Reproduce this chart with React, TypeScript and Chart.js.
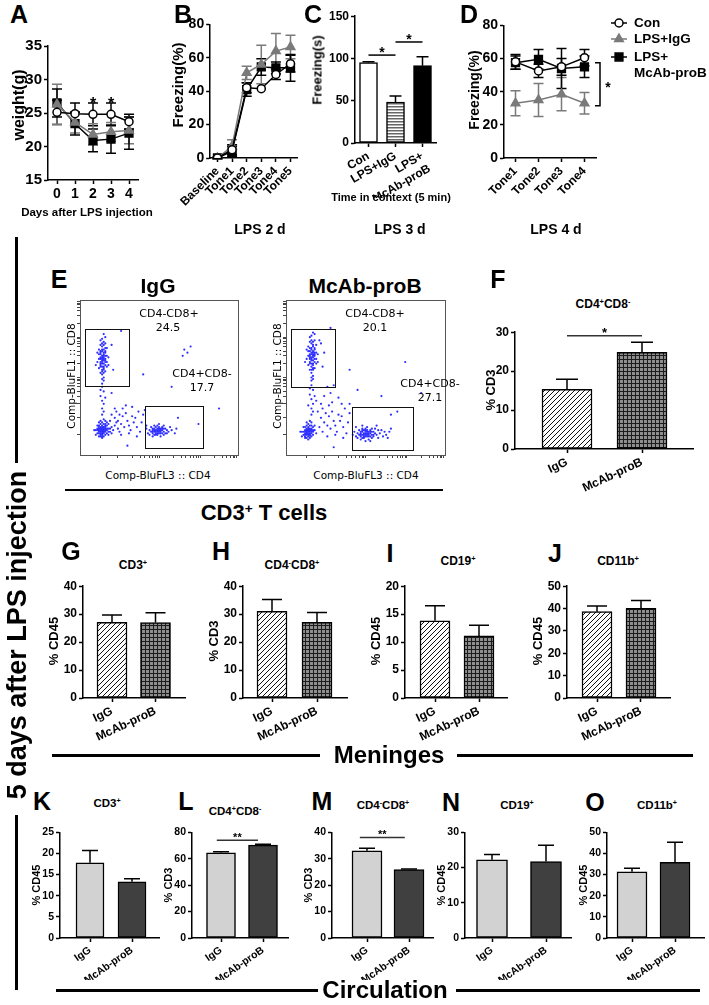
import React, { useEffect, useRef } from "react";
import { Chart, registerables } from "chart.js";
Chart.register(...registerables);

const FONT = "'Liberation Sans', Arial, Helvetica, sans-serif";
const FLOWFONT = "'DejaVu Sans', Verdana, sans-serif";

// ---------------- DATA ----------------
const daysA = ["0", "1", "2", "3", "4"];
const conA = [25.1, 24.9, 24.8, 24.8, 23.7];
const conAErr = [1.8, 1.6, 1.7, 1.7, 1.1];
const igA = [26.3, 23.6, 21.8, 22.2, 22.4];
const igAErr = [3.0, 1.6, 1.6, 1.4, 2.0];
const mcA = [26.5, 23.4, 20.9, 21.1, 22.0];
const mcAErr = [2.1, 1.7, 1.7, 2.1, 2.4];
const starsA = [2, 3];
const starYA = 27;

const tonesB = ["Baseline", "Tone1", "Tone2", "Tone3", "Tone4", "Tone5"];
const conB = [0, 5, 42, 41.5, 50, 56.5];
const conBErr = [0.5, 3, 3, 0, 3, 5];
const igB = [0, 7, 51, 56, 64, 66.5];
const igBErr = [0.5, 4, 4, 11.5, 10.5, 7];
const mcB = [0, 4, 41, 54.5, 54, 54];
const mcBErr = [0.5, 3, 4, 5, 3.5, 8];

const groupsC = ["Con", "LPS+IgG", ["LPS+", "McAb-proB"]];
const valsC = [95, 48.5, 91.5];
const errsC = [1, 7, 10.5];
const sigsC = [
  { x0: 0, x1: 1, y: 104, text: "*" },
  { x0: 1, x1: 2, y: 119.5, text: "*" },
];

const tonesD = ["Tone1", "Tone2", "Tone3", "Tone4"];
const conD = [58, 52.5, 55, 60.5];
const conDErr = [4.5, 4, 5, 5];
const igD = [33, 35, 38.5, 33];
const igDErr = [7.5, 10, 10, 6.5];
const mcD = [57.5, 59.5, 54, 55];
const mcDErr = [4, 6, 12, 6.5];
const bracketD = { y0: 57.5, y1: 31.5, starY: 45, text: "*" };

const groups2 = ["IgG", "McAb-proB"];
const valsF = [15.3, 24.8];
const errsF = [2.6, 2.6];
const valsG = [27.1, 27.0];
const errsG = [2.6, 3.5];
const valsH = [31.0, 27.1];
const errsH = [4.2, 3.5];
const valsI = [13.8, 11.1];
const errsI = [2.7, 1.9];
const valsJ = [38.6, 40.1];
const errsJ = [2.6, 3.5];
const valsK = [17.8, 13.3];
const errsK = [2.9, 0.7];
const valsL = [64.5, 70.3];
const errsL = [0.8, 0.6];
const valsM = [33.0, 25.9];
const errsM = [1.0, 0.2];
const valsN = [22.2, 21.7];
const errsN = [1.5, 4.6];
const valsO = [31.3, 35.8];
const errsO = [1.7, 9.5];
const sigF = [{ x0: 0, x1: 1, y: 29.1, text: "*" }];
const sigL = [{ x0: -0.1, x1: 0.88, y: 74, text: "**" }];
const sigM = [{ x0: -0.17, x1: 0.9, y: 38, text: "**" }];

// flow cytometry events (x,y pairs, 0-100 display units)
const flowIgG = [
  14,61, 15,63, 13,58, 16,66, 14,70, 15,55, 12,62, 17,60, 13,67, 16,72, 14,52, 15,48, 13,74, 12,56, 16,58, 15,68, 14,64, 13,60, 17,64, 15,59,
  14,57, 16,62, 13,65, 15,71, 14,75, 12,68, 16,54, 17,69, 15,50, 14,46, 13,53, 18,63, 11,60, 16,76, 15,65, 14,67, 13,63, 15,57, 16,60, 14,59,
  15,62, 13,71, 17,57, 12,65, 14,72, 16,67, 15,53, 14,49, 18,58, 11,66, 15,78, 20,71, 10,58, 21,55, 13,62, 14,63, 15,61, 16,64, 14,55, 13,57,
  14,62, 15,64, 14,60, 13,59, 15,66, 16,61, 14,68, 15,56, 13,66, 16,69, 14,54, 15,73,
  14,44, 15,41, 13,38, 14,35, 15,33, 14,30, 16,37, 13,42, 15,28, 14,26,
  14,16, 13,15, 15,17, 12,14, 16,18, 14,13, 13,18, 15,14, 12,17, 16,15, 14,19, 11,16, 17,16, 13,12, 15,20, 14,15, 13,16, 15,16, 12,15, 16,17,
  14,17, 13,14, 15,15, 14,14, 12,19, 16,13, 17,19, 11,14, 18,17, 14,21, 13,20, 15,12, 10,16, 19,15, 14,11, 12,12, 16,20, 17,14, 13,17, 15,18,
  14,18, 18,20, 20,18, 21,16, 19,22, 22,19, 20,14, 18,13, 11,19, 10,13, 9,16, 13,22, 15,23, 16,22, 24,17, 23,21,
  13,16, 14,15.5, 15,16.5, 13,17, 14,16.5, 12,16, 15,15, 16,16, 14,14, 13,13, 15,18, 12,18, 16,19, 17,17, 11,17, 14,12, 18,15, 19,17, 17,21, 12,21,
  22,24, 25,26, 24,22, 27,25, 26,20, 28,18, 25,15, 30,22, 29,27, 31,19, 33,25, 32,16, 34,21, 36,18, 35,24, 37,28, 38,15, 39,21, 40,26, 27,30,
  29,32, 23,28, 26,13, 31,14, 36,12, 42,19, 41,29, 33,31, 20,26, 22,30,
  49,16, 47,15, 51,17, 46,17, 50,14, 52,16, 48,18, 45,15, 53,15, 50,18, 47,13, 49,14, 51,15, 48,16, 54,17, 46,14, 50,16, 52,18, 44,16, 48,13,
  53,13, 55,16, 47,17, 49,19, 51,12, 45,18, 56,15, 50,20, 43,14, 57,18, 46,12, 52,14, 48,15, 50,15, 54,14, 49,17, 58,16, 60,14, 42,17, 47,19,
  53,19, 51,16, 61,17, 44,13, 46,16, 49,15, 50,17, 48,14, 51,14, 47,16, 52,17, 49,13, 53,17, 46,15, 55,14,
  66,68, 68,66, 70,70, 65,64, 26,80, 40,52, 58,44, 88,30, 20,40, 30,6, 75,20, 62,24,
];
const flowMcAb = [
  16,63, 17,65, 15,60, 18,68, 16,72, 17,56, 14,64, 19,62, 15,69, 18,74, 16,53, 17,49, 15,76, 14,58, 18,60, 17,70, 16,66, 15,62, 19,66, 17,61,
  16,59, 18,64, 15,67, 17,73, 16,77, 14,70, 18,56, 19,71, 17,51, 16,48, 15,55, 20,65, 13,62, 18,78, 17,67, 16,69, 15,65, 17,59, 18,62, 16,61,
  17,64, 15,73, 19,59, 14,67, 16,74, 18,69, 17,55, 16,50, 20,60, 13,68, 17,79, 22,72, 12,60, 23,57, 15,64, 16,65, 17,63, 18,66, 16,57, 15,59,
  21,74, 24,66, 16,62, 17,66, 16,68, 15,63, 18,65, 17,71, 16,55, 17,58,
  16,45, 17,42, 15,39, 16,36, 17,33, 16,30, 18,38, 15,43, 17,28, 16,26, 19,35, 14,32,
  14,15, 13,14, 15,16, 12,13, 16,17, 14,12, 13,17, 15,13, 12,16, 16,14, 14,18, 11,15, 17,15, 13,11, 15,19, 14,14, 13,15, 15,15, 12,14, 16,16,
  14,16, 13,13, 15,14, 14,13, 12,18, 16,12, 17,18, 11,13, 18,16, 14,20, 13,19, 15,11, 10,15, 19,14, 14,10, 12,11, 16,19, 17,13, 13,16, 15,17,
  14,17, 18,19, 11,18, 10,12, 9,15, 13,21, 15,22, 16,21, 14,15.5, 13,14.5, 15,16.5, 12,15, 16,15, 14,13.5, 13,16.5, 17,16, 12,12, 15,12.5,
  22,24, 25,27, 24,21, 27,25, 26,19, 28,17, 30,22, 29,28, 31,19, 33,26, 32,15, 34,22, 36,18, 35,25, 37,30, 38,14, 39,21, 40,27, 27,32, 29,34,
  23,30, 26,12, 31,13, 36,11, 20,28, 22,33, 24,38, 28,40, 33,37, 30,45, 26,44, 35,33, 21,18, 23,15, 40,33,
  50,14, 48,13, 52,15, 47,15, 51,12, 53,14, 49,16, 46,13, 54,13, 51,16, 48,11, 50,12, 52,13, 49,14, 55,15, 47,12, 51,14, 53,16, 45,14, 49,11,
  54,11, 56,14, 48,15, 50,17, 52,10, 46,16, 57,13, 51,18, 44,12, 58,16, 47,10, 53,12, 49,13, 51,13, 55,12, 50,15, 59,14, 61,12, 43,15, 48,17,
  54,17, 52,14, 62,15, 45,11, 47,14, 56,17, 58,11, 60,16, 63,13, 65,15, 42,13, 44,18, 50,9, 53,9, 57,19, 64,11, 66,17, 48,19,
  50,13, 51,15, 49,12, 52,12, 48,16, 53,15, 50,16, 54,15, 47,13, 55,13,
  60,38, 40,55, 28,82, 70,28, 85,40, 75,60, 66,26, 45,42, 30,5,
];
const gatesIgG = [[3.2, 31, 44.5, 81.3], [41, 78, 4.5, 31.6]];
const gatesMcAb = [[3.1, 30.8, 43.9, 81.3], [41.5, 80, 3.2, 31]];
const flowTicks = [13, 24, 33, 38, 41, 44, 46, 48, 49, 50, 59, 64, 67, 70, 72, 73.5, 75, 76, 85, 90, 93, 95, 97, 98, 99];

// ---------------- HELPERS ----------------
type Box = { x0: number; x1: number; y0: number; y1: number; W: number; H: number; pt: number; pr: number };

function boxRect(b: Box) {
  return { left: b.x0 - b.W, top: b.y0 - b.pt, w: b.x1 - b.x0 + b.W + b.pr, h: b.y1 - b.y0 + b.pt + b.H };
}

const fnt = (size: number) => ({ family: FONT, size, weight: "bold" as const });

function baseOpts(b: Box, scales: any) {
  return {
    responsive: false,
    maintainAspectRatio: false,
    animation: false,
    devicePixelRatio: 1,
    events: [],
    layout: { autoPadding: false, padding: { top: b.pt, right: b.pr, left: 0, bottom: 0 } },
    plugins: { legend: { display: false }, tooltip: { enabled: false }, title: { display: false } },
    scales,
  };
}

const axisLine = { display: true, color: "#000", width: 1.5 };
const tickGrid = { display: true, drawOnChartArea: false, drawTicks: true, tickLength: 4, tickColor: "#000", tickWidth: 1.5, offset: false };

function yLin(min: number, max: number, step: number, size: number, W: number) {
  return {
    type: "linear", min, max,
    border: axisLine, grid: tickGrid,
    ticks: { stepSize: step, color: "#000", font: fnt(size), padding: 2 },
    afterFit: (s: any) => { s.width = W; },
  };
}
function xCat(size: number, H: number, rot: number) {
  return {
    type: "category", offset: true,
    border: axisLine, grid: tickGrid,
    ticks: { color: "#000", font: fnt(size), padding: 2, autoSkip: false, minRotation: rot, maxRotation: rot },
    afterFit: (s: any) => { s.height = H; },
  };
}
function xLinCat(labels: string[], min: number, max: number, size: number, H: number, rot: number) {
  return {
    type: "linear", min, max, offset: false,
    border: axisLine, grid: tickGrid,
    afterBuildTicks: (s: any) => { s.ticks = labels.map((_, i) => ({ value: i })); },
    ticks: { color: "#000", font: fnt(size), padding: 2, autoSkip: false, minRotation: rot, maxRotation: rot,
      callback: (v: number) => labels[v] ?? "" },
    afterFit: (s: any) => { s.height = H; },
  };
}
function flowAxis(H: number, vertical: boolean) {
  return {
    type: "linear", min: 0, max: 100,
    border: { display: true, color: "#444", width: 1 },
    grid: { display: true, drawOnChartArea: false, drawTicks: true, tickLength: 3, tickColor: "#444", tickWidth: 1 },
    ticks: { display: false },
    afterBuildTicks: (s: any) => { s.ticks = flowTicks.map((v) => ({ value: v })); },
    afterFit: (s: any) => { if (vertical) s.width = H; else s.height = H; },
  };
}

function pattern(kind: string): any {
  const c = document.createElement("canvas");
  const g = c.getContext("2d")!;
  if (kind === "hatch") {
    c.width = 5; c.height = 5;
    g.fillStyle = "#fff"; g.fillRect(0, 0, 5, 5);
    g.strokeStyle = "#111"; g.lineWidth = 1;
    g.beginPath();
    g.moveTo(-1, 6); g.lineTo(6, -1);
    g.moveTo(-1, 1); g.lineTo(1, -1);
    g.moveTo(4, 6); g.lineTo(6, 4);
    g.stroke();
  } else if (kind === "grid") {
    c.width = 4; c.height = 4;
    g.fillStyle = "#8e8e8e"; g.fillRect(0, 0, 4, 4);
    g.fillStyle = "#1c1c1c"; g.fillRect(0, 0, 4, 1); g.fillRect(0, 0, 1, 4);
  } else {
    c.width = 4; c.height = 3;
    g.fillStyle = "#fff"; g.fillRect(0, 0, 4, 3);
    g.fillStyle = "#666"; g.fillRect(0, 0, 4, 1.5);
  }
  return g.createPattern(c, "repeat");
}

const errPlugin = {
  id: "errbars",
  beforeDatasetsDraw(chart: any) {
    const ctx = chart.ctx;
    chart.data.datasets.forEach((ds: any, i: number) => {
      if (!ds.errs) return;
      const meta = chart.getDatasetMeta(i);
      const ys = chart.scales[meta.yAxisID];
      ctx.save();
      ctx.strokeStyle = ds.errColor || "#000";
      ctx.lineWidth = 1.5;
      meta.data.forEach((el: any, j: number) => {
        const raw = ds.data[j];
        const v = typeof raw === "number" ? raw : raw.y;
        const e = ds.errs[j];
        if (!e) return;
        const x = el.x;
        const yt = ys.getPixelForValue(v + e);
        const yb = ys.getPixelForValue(ds.errUp ? v : v - e);
        const c = ds.capW || 5;
        ctx.beginPath();
        ctx.moveTo(x, yt); ctx.lineTo(x, yb);
        ctx.moveTo(x - c, yt); ctx.lineTo(x + c, yt);
        if (!ds.errUp) { ctx.moveTo(x - c, yb); ctx.lineTo(x + c, yb); }
        ctx.stroke();
      });
      ctx.restore();
    });
  },
};

function drawMarker(ctx: any, style: string, x: number, y: number, r: number, fill: string, stroke: string) {
  ctx.beginPath();
  if (style === "circle") ctx.arc(x, y, r, 0, Math.PI * 2);
  else if (style === "triangle") {
    ctx.moveTo(x, y - r); ctx.lineTo(x + r * 0.866, y + r * 0.5); ctx.lineTo(x - r * 0.866, y + r * 0.5); ctx.closePath();
  } else { const s = r * 0.7071; ctx.rect(x - s, y - s, 2 * s, 2 * s); }
  ctx.fillStyle = fill; ctx.fill();
  ctx.strokeStyle = stroke; ctx.lineWidth = 1.5; ctx.stroke();
}

function extras(o: any, b?: Box) {
  return {
    id: "extras",
    afterDraw(chart: any) {
      const ctx = chart.ctx, xs = chart.scales.x, ys = chart.scales.y, ca = chart.chartArea;
      ctx.save();
      const star = (t: string, x: number, y: number, size: number) => {
        ctx.font = `bold ${size}px ${FONT}`;
        ctx.fillStyle = "#000"; ctx.textAlign = "center"; ctx.textBaseline = "alphabetic";
        ctx.fillText(t, x, y + 0.58 * size);
      };
      (o.sigs || []).forEach((s: any) => {
        const x0 = xs.getPixelForValue(s.x0), x1 = xs.getPixelForValue(s.x1), y = ys.getPixelForValue(s.y);
        ctx.strokeStyle = o.sigColor || "#333"; ctx.lineWidth = 1.5;
        ctx.beginPath(); ctx.moveTo(x0, y); ctx.lineTo(x1, y); ctx.stroke();
        star(s.text, (x0 + x1) / 2, y - 6, o.starSize || 13);
      });
      (o.stars || []).forEach((s: any) => star(s.text, xs.getPixelForValue(s.x), ys.getPixelForValue(s.y), s.size));
      (o.gates || []).forEach((g: number[]) => {
        const x0 = xs.getPixelForValue(g[0]), x1 = xs.getPixelForValue(g[1]);
        const y0 = ys.getPixelForValue(g[2]), y1 = ys.getPixelForValue(g[3]);
        ctx.strokeStyle = "#111"; ctx.lineWidth = 1;
        ctx.strokeRect(Math.round(x0) + 0.5, Math.round(y1) + 0.5, Math.round(x1 - x0), Math.round(y0 - y1));
      });
      if (o.frame) {
        ctx.strokeStyle = "#555"; ctx.lineWidth = 1;
        ctx.strokeRect(Math.round(ca.left) + 0.5, Math.round(ca.top) + 0.5, Math.round(ca.right - ca.left), Math.round(ca.bottom - ca.top));
      }
      if (o.bracket) {
        const br = o.bracket;
        const x = ca.right + 4, y0 = ys.getPixelForValue(br.y0), y1 = ys.getPixelForValue(br.y1);
        ctx.strokeStyle = "#000"; ctx.lineWidth = 1.5;
        ctx.beginPath();
        ctx.moveTo(x - 5, y0); ctx.lineTo(x, y0); ctx.lineTo(x, y1); ctx.lineTo(x - 5, y1);
        ctx.stroke();
        star(br.text, x + 8, ys.getPixelForValue(br.starY), 14);
      }
      if (o.legend && b) {
        const ox = b.x0 - b.W, oy = b.y0 - b.pt;
        o.legend.forEach((it: any) => {
          const x = it.x - ox, y = it.y - oy;
          ctx.strokeStyle = it.color; ctx.lineWidth = 1.5;
          ctx.beginPath(); ctx.moveTo(x - 8, y); ctx.lineTo(x + 8, y); ctx.stroke();
          drawMarker(ctx, it.style, x, y, it.r, it.fill, it.color);
        });
      }
      ctx.restore();
    },
  };
}

const seriesStyle: any = {
  con: { color: "#000", fill: "#fff", style: "circle", r: 4 },
  ig: { color: "#7a7a7a", fill: "#7a7a7a", style: "triangle", r: 5 },
  mc: { color: "#000", fill: "#000", style: "rect", r: 5.5 },
};
function lineDs(label: string, data: number[], errs: number[], k: string) {
  const s = seriesStyle[k];
  return {
    label, data: data.slice(), errs, errColor: s.color, capW: 5,
    borderColor: s.color, borderWidth: 1.5, backgroundColor: s.fill,
    pointStyle: s.style, pointRadius: s.r, pointBorderColor: s.color, pointBackgroundColor: s.fill,
    pointBorderWidth: 1.5, fill: false, tension: 0,
  };
}

// ---------------- CHART BUILDERS ----------------
const boxA: Box = { x0: 48, x1: 138, y0: 43, y1: 180, W: 40, H: 32, pt: 8, pr: 6 };
const boxB: Box = { x0: 210, x1: 299, y0: 22, y1: 158, W: 32, H: 55, pt: 8, pr: 4 };
const boxC: Box = { x0: 355, x1: 436, y0: 15, y1: 143, W: 34, H: 55, pt: 8, pr: 4 };
const boxD: Box = { x0: 504, x1: 596, y0: 23, y1: 158, W: 32, H: 55, pt: 8, pr: 112 };
const boxFlow1: Box = { x0: 80, x1: 238, y0: 300, y1: 455, W: 5, H: 5, pt: 2, pr: 2 };
const boxFlow2: Box = { x0: 286, x1: 445, y0: 300, y1: 455, W: 5, H: 5, pt: 2, pr: 2 };

const makeA = (b: Box) => ({
  type: "line",
  data: { labels: daysA, datasets: [lineDs("Con", conA, conAErr, "con"), lineDs("LPS+IgG", igA, igAErr, "ig"), lineDs("LPS+McAb-proB", mcA, mcAErr, "mc")] },
  options: baseOpts(b, { x: xCat(14, b.H, 0), y: yLin(15, 35, 5, 15, b.W) }),
  plugins: [errPlugin, extras({ stars: starsA.map((i) => ({ x: i, y: starYA, text: "*", size: 16 })) })],
});
const makeB = (b: Box) => ({
  type: "line",
  data: { labels: tonesB, datasets: [lineDs("Con", conB, conBErr, "con"), lineDs("LPS+IgG", igB, igBErr, "ig"), lineDs("LPS+McAb-proB", mcB, mcBErr, "mc")] },
  options: baseOpts(b, { x: xCat(12, b.H, 45), y: yLin(0, 80, 20, 14, b.W) }),
  plugins: [errPlugin],
});
const makeC = (b: Box) => ({
  type: "bar",
  data: {
    labels: groupsC,
    datasets: [{ data: valsC.slice(), errs: errsC, errUp: true, capW: 6, backgroundColor: ["#fff", pattern("stripes"), "#000"],
      borderColor: "#000", borderWidth: 1.5, borderSkipped: false, barThickness: 18 }],
  },
  options: baseOpts(b, { x: xCat(12, b.H, 30), y: yLin(0, 150, 50, 12, b.W) }),
  plugins: [errPlugin, extras({ sigs: sigsC, sigColor: "#000", starSize: 14 })],
});
const legendD = [
  { x: 619, y: 23, style: "circle", r: 4, color: "#000", fill: "#fff" },
  { x: 619, y: 39, style: "triangle", r: 5, color: "#7a7a7a", fill: "#7a7a7a" },
  { x: 619, y: 57, style: "rect", r: 5.5, color: "#000", fill: "#000" },
];
const makeD = (b: Box) => ({
  type: "line",
  data: { labels: tonesD, datasets: [lineDs("Con", conD, conDErr, "con"), lineDs("LPS+IgG", igD, igDErr, "ig"), lineDs("LPS+McAb-proB", mcD, mcDErr, "mc")] },
  options: baseOpts(b, { x: xCat(12, b.H, 45), y: yLin(0, 80, 20, 14, b.W) }),
  plugins: [errPlugin, extras({ bracket: bracketD, legend: legendD }, b)],
});
const makeFlow = (pts: number[], gates: number[][]) => (b: Box) => {
  const data: any[] = [];
  for (let i = 0; i < pts.length; i += 2) data.push({ x: pts[i], y: pts[i + 1] });
  return {
    type: "scatter",
    data: { datasets: [{ data, pointRadius: 1.1, pointBackgroundColor: "#2f2fff", pointBorderWidth: 0 }] },
    options: baseOpts(b, { x: flowAxis(b.H, false), y: flowAxis(b.W, true) }),
    plugins: [extras({ frame: true, gates })],
  };
};

type BarPanel = {
  id: string; box: Box; c0: number; c1: number; bw: number; vals: number[]; errs: number[];
  y: number[]; fill: string; tick: number; xs: number; rot: number; cap: number; sig?: any[];
};
const barPanels: BarPanel[] = [
  { id: "F", box: { x0: 515, x1: 693, y0: 331, y1: 449, W: 28, H: 50, pt: 8, pr: 4 }, c0: 567, c1: 642, bw: 50, vals: valsF, errs: errsF, y: [0, 30, 10], fill: "pat", tick: 12, xs: 12, rot: 25, cap: 11, sig: sigF },
  { id: "G", box: { x0: 83, x1: 185, y0: 585, y1: 698, W: 26, H: 45, pt: 8, pr: 4 }, c0: 112, c1: 155.5, bw: 30, vals: valsG, errs: errsG, y: [0, 40, 10], fill: "pat", tick: 12, xs: 12, rot: 25, cap: 10 },
  { id: "H", box: { x0: 243, x1: 347, y0: 585, y1: 698, W: 26, H: 45, pt: 8, pr: 4 }, c0: 272, c1: 317, bw: 30, vals: valsH, errs: errsH, y: [0, 40, 10], fill: "pat", tick: 12, xs: 12, rot: 25, cap: 10 },
  { id: "I", box: { x0: 405, x1: 507, y0: 585, y1: 698, W: 26, H: 45, pt: 8, pr: 4 }, c0: 435, c1: 479, bw: 30, vals: valsI, errs: errsI, y: [0, 20, 5], fill: "pat", tick: 12, xs: 12, rot: 25, cap: 10 },
  { id: "J", box: { x0: 567, x1: 670, y0: 585, y1: 698, W: 26, H: 45, pt: 8, pr: 4 }, c0: 597, c1: 641, bw: 30, vals: valsJ, errs: errsJ, y: [0, 50, 10], fill: "pat", tick: 12, xs: 12, rot: 25, cap: 10 },
  { id: "K", box: { x0: 60, x1: 159, y0: 832, y1: 938, W: 22, H: 42, pt: 8, pr: 4 }, c0: 90, c1: 132, bw: 28, vals: valsK, errs: errsK, y: [0, 25, 5], fill: "grey", tick: 10.5, xs: 10.5, rot: 35, cap: 8 },
  { id: "L", box: { x0: 192, x1: 288, y0: 832, y1: 938, W: 22, H: 42, pt: 8, pr: 4 }, c0: 221, c1: 263, bw: 29, vals: valsL, errs: errsL, y: [0, 80, 20], fill: "grey", tick: 10.5, xs: 10.5, rot: 35, cap: 8, sig: sigL },
  { id: "M", box: { x0: 332, x1: 433, y0: 832, y1: 938, W: 22, H: 42, pt: 8, pr: 4 }, c0: 367, c1: 409, bw: 30, vals: valsM, errs: errsM, y: [0, 40, 10], fill: "grey", tick: 10.5, xs: 10.5, rot: 35, cap: 8, sig: sigM },
  { id: "N", box: { x0: 465, x1: 571, y0: 832, y1: 938, W: 22, H: 42, pt: 8, pr: 4 }, c0: 492, c1: 546, bw: 31, vals: valsN, errs: errsN, y: [0, 30, 10], fill: "grey", tick: 10.5, xs: 10.5, rot: 35, cap: 8 },
  { id: "O", box: { x0: 607, x1: 704, y0: 832, y1: 938, W: 22, H: 42, pt: 8, pr: 4 }, c0: 632, c1: 675, bw: 30, vals: valsO, errs: errsO, y: [0, 50, 10], fill: "grey", tick: 10.5, xs: 10.5, rot: 35, cap: 8 },
];

const makeBar = (p: BarPanel) => (b: Box) => {
  const u = p.c1 - p.c0;
  const min = -(p.c0 - b.x0) / u, max = 1 + (b.x1 - p.c1) / u;
  const fills = p.fill === "pat" ? [pattern("hatch"), pattern("grid")] : ["#d2d2d2", "#404040"];
  return {
    type: "bar",
    data: {
      datasets: [{ data: p.vals.map((v, i) => ({ x: i, y: v })), errs: p.errs, errUp: true, capW: p.cap,
        backgroundColor: fills, borderColor: "#000", borderWidth: 1.5, borderSkipped: false, barThickness: p.bw }],
    },
    options: baseOpts(b, { x: xLinCat(groups2, min, max, p.xs, b.H, p.rot), y: yLin(p.y[0], p.y[1], p.y[2], p.tick, b.W) }),
    plugins: [errPlugin, extras({ sigs: p.sig || [], starSize: p.fill === "pat" ? 13 : 11 })],
  };
};

function ChartBox({ box, make }: { box: Box; make: (b: Box) => any }) {
  const ref = useRef<HTMLCanvasElement | null>(null);
  useEffect(() => {
    if (!ref.current) return;
    const chart = new Chart(ref.current, make(box));
    return () => chart.destroy();
  }, []);
  const r = boxRect(box);
  return <canvas ref={ref} width={r.w} height={r.h} style={{ position: "absolute", left: r.left, top: r.top, width: r.w, height: r.h }} />;
}

// ---------------- TEXT HELPERS ----------------
function T({ x, y, s, c, rot = 0, a = "c", w = 700, f = FONT }: any) {
  const tx = a === "l" ? "0" : a === "r" ? "-100%" : "-50%";
  return (
    <div style={{ position: "absolute", left: x, top: y, transform: `translate(${tx},-50%) rotate(${rot}deg)`, fontFamily: f, fontSize: s, fontWeight: w, lineHeight: 1, whiteSpace: "nowrap", color: "#000" }}>
      {c}
    </div>
  );
}
const Sup = ({ c }: any) => <span style={{ fontSize: "0.62em", position: "relative", top: "-0.5em" }}>{c}</span>;
const HL = ({ x0, x1, y, t = 3 }: any) => <div style={{ position: "absolute", left: x0, top: y - t / 2, width: x1 - x0, height: t, background: "#000" }} />;
const VL = ({ x, y0, y1, t = 3 }: any) => <div style={{ position: "absolute", left: x - t / 2, top: y0, width: t, height: y1 - y0, background: "#000" }} />;

const cd4p8m = <>CD4<Sup c="+" />CD8<Sup c="-" /></>;
const cd4m8p = <>CD4<Sup c="-" />CD8<Sup c="+" /></>;

export default function App() {
  return (
    <div style={{ position: "absolute", left: 0, top: 0, width: 709, height: 1005, background: "#fff", overflow: "hidden" }}>
      <ChartBox box={boxA} make={makeA} />
      <ChartBox box={boxB} make={makeB} />
      <ChartBox box={boxC} make={makeC} />
      <ChartBox box={boxD} make={makeD} />
      <ChartBox box={boxFlow1} make={makeFlow(flowIgG, gatesIgG)} />
      <ChartBox box={boxFlow2} make={makeFlow(flowMcAb, gatesMcAb)} />
      {barPanels.map((p) => <ChartBox key={p.id} box={p.box} make={makeBar(p)} />)}

      {/* Row 1 texts */}
      <T x={19} y={14} s={25} c="A" />
      <T x={183} y={14} s={25} c="B" />
      <T x={313} y={14} s={25} c="C" />
      <T x={469} y={14} s={25} c="D" />
      <T x={19} y={105} s={16} rot={-90} c="weight(g)" />
      <T x={87} y={213} s={11.5} c="Days after LPS injection" />
      <T x={177} y={85} s={15} rot={-90} c="Freezing(%)" />
      <T x={317} y={70} s={13} rot={-90} c="Freezing(s)" />
      <T x={391} y={197} s={11} c="Time in context (5 min)" />
      <T x={474} y={90} s={14} rot={-90} c="Freezing(%)" />
      <T x={260} y={229} s={14} c="LPS 2 d" />
      <T x={400} y={229} s={14} c="LPS 3 d" />
      <T x={556} y={229} s={14} c="LPS 4 d" />
      <T x={634} y={23} s={13.5} a="l" c="Con" />
      <T x={634} y={39} s={13.5} a="l" c="LPS+IgG" />
      <T x={634} y={57} s={13.5} a="l" c="LPS+" />
      <T x={634} y={73} s={13.5} a="l" c="McAb-proB" />

      {/* Row E / F */}
      <T x={59} y={279} s={25} c="E" />
      <T x={158} y={285} s={21} c="IgG" />
      <T x={365} y={285} s={21} c="McAb-proB" />
      <T x={169} y={313} s={11} w={400} f={FLOWFONT} c="CD4-CD8+" />
      <T x={168} y={327} s={11} w={400} f={FLOWFONT} c="24.5" />
      <T x={202} y={373} s={11} w={400} f={FLOWFONT} c="CD4+CD8-" />
      <T x={202} y={387} s={11} w={400} f={FLOWFONT} c="17.7" />
      <T x={375} y={313} s={11} w={400} f={FLOWFONT} c="CD4-CD8+" />
      <T x={375} y={327} s={11} w={400} f={FLOWFONT} c="20.1" />
      <T x={430} y={383} s={11} w={400} f={FLOWFONT} c="CD4+CD8-" />
      <T x={430} y={397} s={11} w={400} f={FLOWFONT} c="27.1" />
      <T x={71} y={376} s={10.5} w={400} f={FLOWFONT} rot={-90} c="Comp-BluFL1 :: CD8" />
      <T x={277} y={376} s={10.5} w={400} f={FLOWFONT} rot={-90} c="Comp-BluFL1 :: CD8" />
      <T x={158} y={475} s={10.5} w={400} f={FLOWFONT} c="Comp-BluFL3 :: CD4" />
      <T x={366} y={475} s={10.5} w={400} f={FLOWFONT} c="Comp-BluFL3 :: CD4" />
      <HL x0={65} x1={443} y={490} t={2.5} />
      <T x={264} y={513} s={22} c={<>CD3<Sup c="+" /> T cells</>} />
      <T x={498} y={279} s={25} c="F" />
      <T x={603} y={304} s={12} c={cd4p8m} />
      <T x={490} y={390} s={13} rot={-90} c="% CD3" />

      {/* Row G-J */}
      <T x={71} y={551} s={25} c="G" />
      <T x={221} y={551} s={25} c="H" />
      <T x={390} y={553} s={25} c="I" />
      <T x={555} y={553} s={25} c="J" />
      <T x={133} y={565} s={12} c={<>CD3<Sup c="+" /></>} />
      <T x={292} y={565} s={12} c={cd4m8p} />
      <T x={458} y={561} s={12} c={<>CD19<Sup c="+" /></>} />
      <T x={618} y={561} s={12} c={<>CD11b<Sup c="+" /></>} />
      <T x={53} y={641} s={13} rot={-90} c="% CD45" />
      <T x={213} y={641} s={13} rot={-90} c="% CD3" />
      <T x={375} y={641} s={13} rot={-90} c="% CD45" />
      <T x={537} y={641} s={13} rot={-90} c="% CD45" />
      <HL x0={52} x1={320} y={755} />
      <T x={389} y={755} s={24} c="Meninges" />
      <HL x0={457} x1={693} y={755} />

      {/* Row K-O */}
      <T x={42} y={801} s={25} c="K" />
      <T x={186} y={801} s={25} c="L" />
      <T x={322} y={801} s={25} c="M" />
      <T x={451} y={802} s={25} c="N" />
      <T x={595} y={802} s={25} c="O" />
      <T x={107} y={804} s={11.5} c={<>CD3<Sup c="+" /></>} />
      <T x={235} y={812} s={11.5} c={cd4p8m} />
      <T x={383} y={806} s={11.5} c={cd4m8p} />
      <T x={517} y={806} s={11.5} c={<>CD19<Sup c="+" /></>} />
      <T x={657} y={806} s={11.5} c={<>CD11b<Sup c="+" /></>} />
      <T x={36} y={885} s={11} rot={-90} c="% CD45" />
      <T x={168} y={885} s={11} rot={-90} c="% CD3" />
      <T x={308} y={885} s={11} rot={-90} c="% CD3" />
      <T x={441} y={885} s={11} rot={-90} c="% CD45" />
      <T x={583} y={885} s={11} rot={-90} c="% CD45" />
      <HL x0={56} x1={318} y={990} />
      <T x={385} y={990} s={24} c="Circulation" />
      <HL x0={456} x1={700} y={990} />

      {/* left side label */}
      <VL x={16} y0={237} y1={463} />
      <T x={17} y={635} s={27} rot={-90} c="5 days after LPS injection" />
      <VL x={16} y0={815} y1={990} />
    </div>
  );
}
